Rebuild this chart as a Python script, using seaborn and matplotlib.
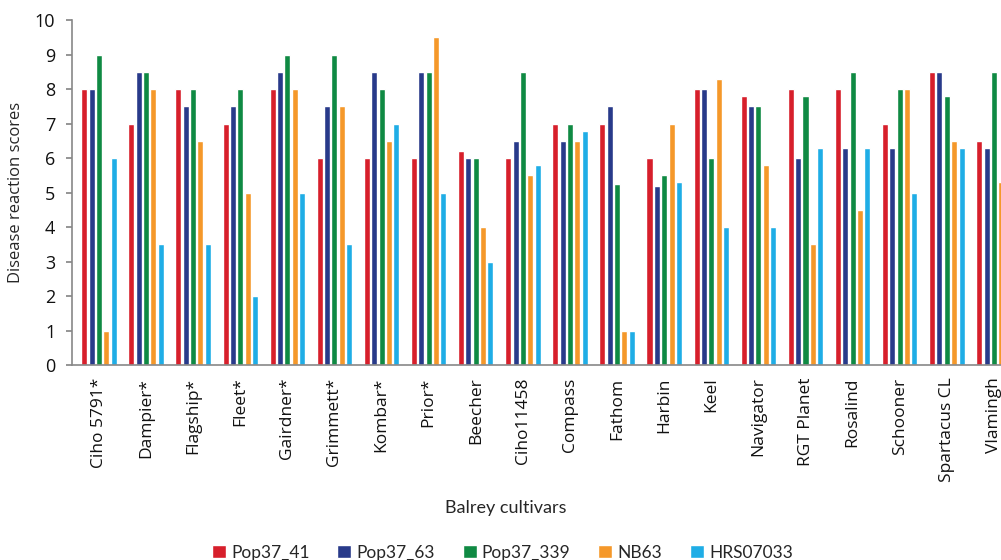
import matplotlib
matplotlib.use("Agg")
import matplotlib.pyplot as plt
import pandas as pd
import seaborn as sns

cultivars = ["Ciho 5791*", "Dampier*", "Flagship*", "Fleet*", "Gairdner*", "Grimmett*",
             "Kombar*", "Prior*", "Beecher", "Ciho11458", "Compass", "Fathom", "Harbin",
             "Keel", "Navigator", "RGT Planet", "Rosalind", "Schooner", "Spartacus CL",
             "Vlamingh"]
series = ["Pop37_41", "Pop37_63", "Pop37_339", "NB63", "HRS07033"]

pop37_41 = [8, 7, 8, 7, 8, 6, 6, 6, 6.2, 6, 7, 7, 6, 8, 7.8, 8, 8, 7, 8.5, 6.5]
pop37_63 = [8, 8.5, 7.5, 7.5, 8.5, 7.5, 8.5, 8.5, 6, 6.5, 6.5, 7.5, 5.2, 8, 7.5, 6, 6.3, 6.3, 8.5, 6.3]
pop37_339 = [9, 8.5, 8, 8, 9, 9, 8, 8.5, 6, 8.5, 7, 5.25, 5.5, 6, 7.5, 7.8, 8.5, 8, 7.8, 8.5]
nb63 = [1, 8, 6.5, 5, 8, 7.5, 6.5, 9.5, 4, 5.5, 6.5, 1, 7, 8.3, 5.8, 3.5, 4.5, 8, 6.5, 5.3]
hrs07033 = [6, 3.5, 3.5, 2, 5, 3.5, 7, 5, 3, 5.8, 6.8, 1, 5.3, 4, 4, 6.3, 6.3, 5, 6.3, 6]

colors = ["#d71f2b", "#283a8a", "#0f8a43", "#f5982a", "#1fade6"]

df = pd.DataFrame({"cultivar": cultivars, "Pop37_41": pop37_41, "Pop37_63": pop37_63,
                   "Pop37_339": pop37_339, "NB63": nb63, "HRS07033": hrs07033})
dfm = df.melt(id_vars="cultivar", var_name="isolate", value_name="score")

sns.set_theme(style="white")
plt.rcParams["font.family"] = ["DejaVu Sans"]

fig = plt.figure(figsize=(10.01, 5.6), dpi=100)
ax = fig.add_axes([0.072, 0.348, 0.928, 0.616])

sns.barplot(dfm, x="cultivar", y="score", hue="isolate", order=cultivars,
            hue_order=series, palette=colors, width=0.78, gap=0.18,
            saturation=1, ax=ax)

ax.set_ylim(0, 10)
ax.set_yticks(range(0, 11))
ax.set_xlim(-0.57, 19.15)
ax.tick_params(axis="y", labelsize=13, length=4, color="#888888", left=True, pad=8)
ax.tick_params(axis="x", labelsize=12.5, length=0, labelrotation=90, pad=9)
for lab in ax.get_yticklabels():
    lab.set_family(["Open Sans", "DejaVu Sans"])
    lab.set_color("#111111")
for lab in ax.get_xticklabels():
    lab.set_family(["Open Sans", "DejaVu Sans"])
    lab.set_color("#111111")

ax.set_xlabel("Balrey cultivars", fontsize=13, family=["Lato", "DejaVu Sans"])
ax.set_ylabel("Disease reaction scores", fontsize=12, family=["Open Sans", "DejaVu Sans"], labelpad=8)
ax.xaxis.set_label_coords((505 - 72) / 928.0, -0.392)

for side in ["top", "right"]:
    ax.spines[side].set_visible(False)
ax.spines["left"].set_color("#888888")
ax.spines["bottom"].set_color("#888888")
ax.spines["left"].set_linewidth(1.2)
ax.spines["bottom"].set_linewidth(1.2)

handles, labels = ax.get_legend_handles_labels()
ax.legend_.remove()
fig.legend(handles, labels, loc="center", bbox_to_anchor=(0.502, 0.013), ncol=5,
           frameon=False, prop={"family": ["Lato", "DejaVu Sans"], "size": 12.5},
           handlelength=0.8, handleheight=0.8, handletextpad=0.3, columnspacing=1.6,
           borderpad=0)

fig.savefig("out.png", dpi=100)
